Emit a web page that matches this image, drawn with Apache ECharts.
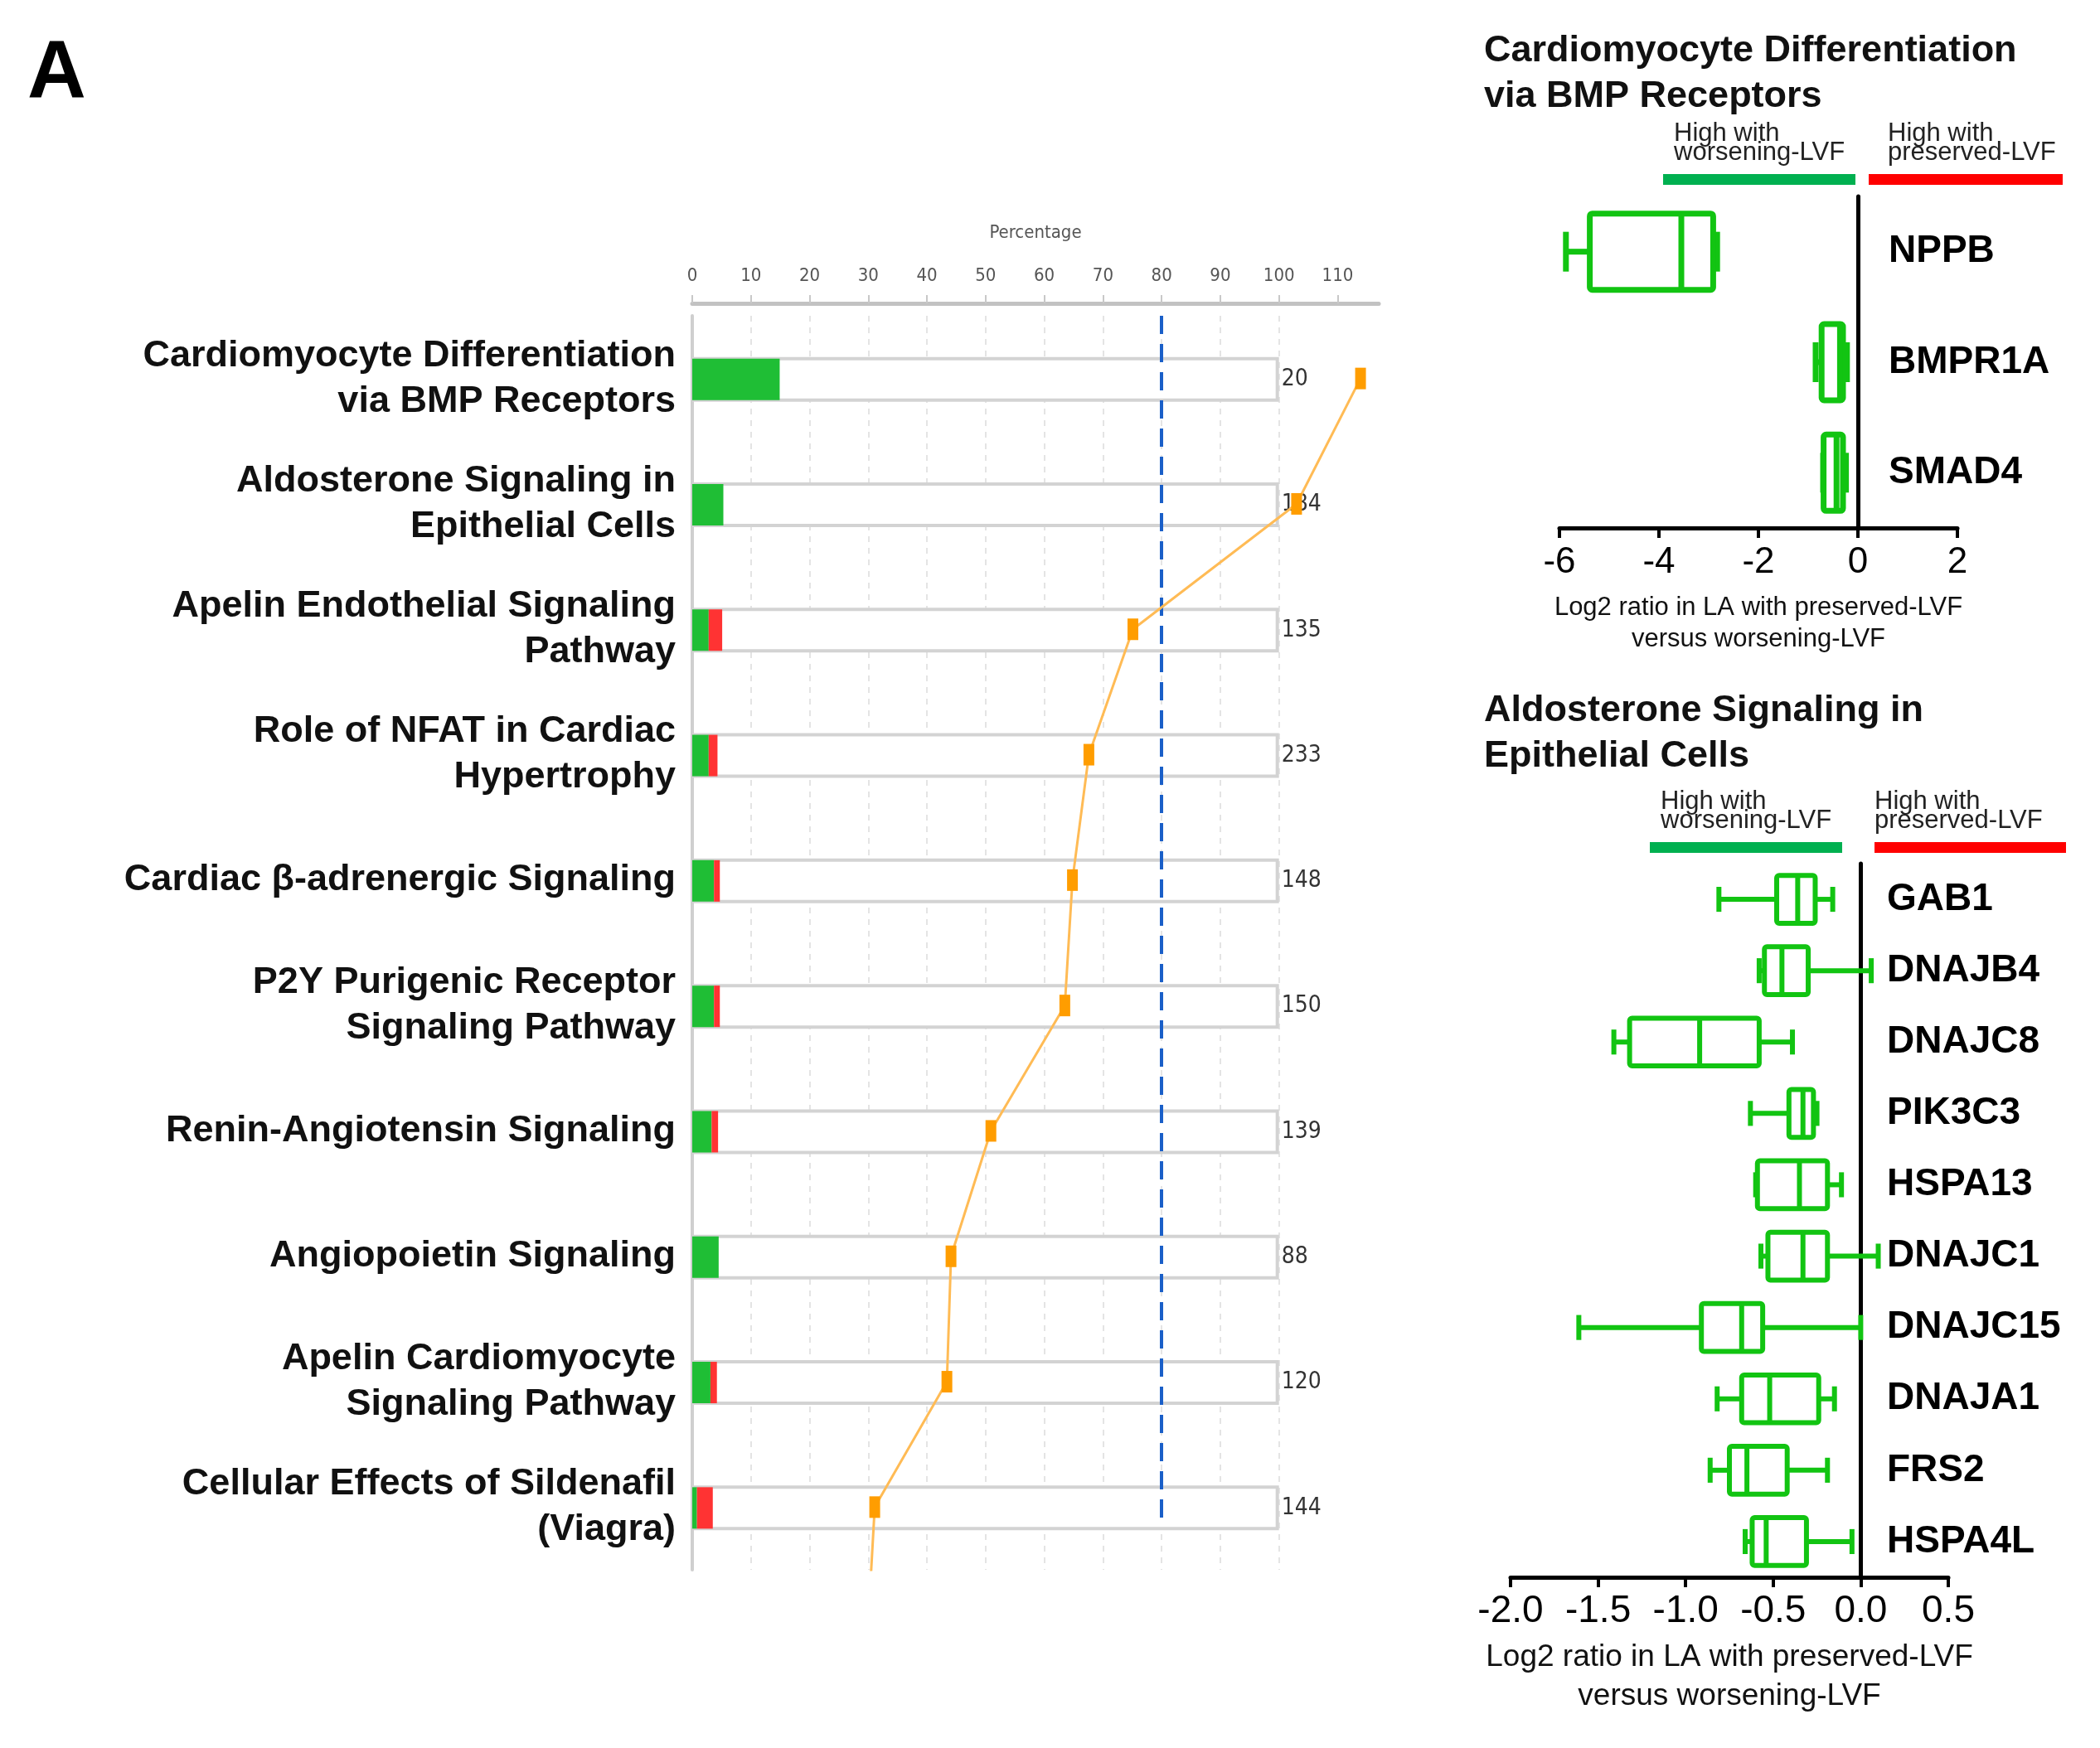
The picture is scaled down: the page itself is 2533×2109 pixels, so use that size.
<!DOCTYPE html>
<html><head><meta charset="utf-8">
<script src="https://cdn.jsdelivr.net/npm/echarts@6/dist/echarts.min.js"></script>
<style>html,body{margin:0;padding:0;background:#fff}#c{width:2533px;height:2109px}</style>
</head><body><div id="c"></div>
<script>
// ---------- data ----------
const pathways = [
  'Cardiomyocyte Differentiation\nvia BMP Receptors',
  'Aldosterone Signaling in\nEpithelial Cells',
  'Apelin Endothelial Signaling\nPathway',
  'Role of NFAT in Cardiac\nHypertrophy',
  'Cardiac \u03b2-adrenergic Signaling',
  'P2Y Purigenic Receptor\nSignaling Pathway',
  'Renin-Angiotensin Signaling',
  'Angiopoietin Signaling',
  'Apelin Cardiomyocyte\nSignaling Pathway',
  'Cellular Effects of Sildenafil\n(Viagra)'
];
const moleculeCounts = [20, 184, 135, 233, 148, 150, 139, 88, 120, 144];
const greenPct = [14.9, 5.3, 2.8, 2.8, 3.7, 3.7, 3.3, 4.5, 3.1, 0.8];
const redPct   = [0, 0, 2.3, 1.5, 1.0, 1.0, 1.1, 0, 1.1, 2.7];
const totalPct = [100, 100, 100, 100, 100, 100, 100, 100, 100, 100];
const ratioLine = [113.9, 103.0, 75.1, 67.6, 64.8, 63.5, 50.9, 44.1, 43.4, 31.1, 29.9];
const pctTicks = [0, 10, 20, 30, 40, 50, 60, 70, 80, 90, 100, 110];
const thresholdPct = 80;

const bmpGenes = ['NPPB', 'BMPR1A', 'SMAD4'];
// [min, Q1, median, Q3, max]
const bmpStats = [
  [-5.87, -5.39, -3.55, -2.91, -2.83],
  [-0.85, -0.73, -0.36, -0.30, -0.22],
  [-0.70, -0.69, -0.43, -0.30, -0.24]
];
const aldoGenes = ['GAB1', 'DNAJB4', 'DNAJC8', 'PIK3C3', 'HSPA13', 'DNAJC1', 'DNAJC15', 'DNAJA1', 'FRS2', 'HSPA4L'];
const aldoStats = [
  [-0.81, -0.48, -0.36, -0.26, -0.16],
  [-0.58, -0.55, -0.45, -0.30, 0.06],
  [-1.41, -1.32, -0.92, -0.58, -0.39],
  [-0.63, -0.41, -0.33, -0.27, -0.25],
  [-0.60, -0.59, -0.35, -0.19, -0.11],
  [-0.57, -0.53, -0.33, -0.19, 0.10],
  [-1.61, -0.91, -0.68, -0.56, 0.00],
  [-0.82, -0.68, -0.52, -0.24, -0.15],
  [-0.86, -0.75, -0.65, -0.42, -0.19],
  [-0.66, -0.62, -0.54, -0.31, -0.05]
];

// ---------- styles ----------
const SANS = '"Liberation Sans", Arial, Helvetica, sans-serif';
const NARROW = '"Liberation Sans Narrow", "DejaVu Sans Condensed", "Liberation Sans", Arial, sans-serif';
const BOX_GREEN = '#12c412';

function makeBoxRenderer(boxRatio, capRatio, lw) {
  return function (params, api) {
    const idx = api.value(5);
    const band = api.size([0, 1])[1];
    const h = band * boxRatio, c = band * capRatio;
    const xs = [0, 1, 2, 3, 4].map(function (i) { return api.coord([api.value(i), idx])[0]; });
    const y = api.coord([api.value(2), idx])[1];
    const st = { stroke: BOX_GREEN, lineWidth: lw, fill: 'transparent', lineJoin: 'round', lineCap: 'butt' };
    return {
      type: 'group', children: [
        { type: 'line', shape: { x1: xs[0], y1: y, x2: xs[1], y2: y }, style: st },
        { type: 'line', shape: { x1: xs[3], y1: y, x2: xs[4], y2: y }, style: st },
        { type: 'line', shape: { x1: xs[0], y1: y - c / 2, x2: xs[0], y2: y + c / 2 }, style: st },
        { type: 'line', shape: { x1: xs[4], y1: y - c / 2, x2: xs[4], y2: y + c / 2 }, style: st },
        { type: 'rect', shape: { x: xs[1], y: y - h / 2, width: xs[3] - xs[1], height: h, r: 3 }, style: st },
        { type: 'line', shape: { x1: xs[2], y1: y - h / 2, x2: xs[2], y2: y + h / 2 }, style: st }
      ]
    };
  };
}

function boxAxisX(gridIndex, min, max, interval, fontSize, labelMargin, nameFont, nameLH, nameGap, fmt) {
  return {
    type: 'value', gridIndex: gridIndex, min: min, max: max, interval: interval,
    position: 'bottom',
    axisLine: { show: true, onZero: false, lineStyle: { color: '#000', width: 5 } },
    axisTick: { show: true, inside: false, length: 12, lineStyle: { color: '#000', width: 4 } },
    splitLine: { show: false },
    axisLabel: { show: true, margin: labelMargin, fontSize: fontSize, fontFamily: SANS, color: '#000', formatter: fmt },
    name: 'Log2 ratio in LA with preserved-LVF\nversus worsening-LVF',
    nameLocation: 'middle', nameGap: nameGap, nameMoveOverlap: false,
    nameTextStyle: { fontSize: nameFont, lineHeight: nameLH, fontFamily: SANS, color: '#111' }
  };
}
function boxAxisY(gridIndex, genes, margin) {
  return {
    type: 'category', gridIndex: gridIndex, data: genes, inverse: true, position: 'right',
    axisLine: { show: true, onZero: true, lineStyle: { color: '#000', width: 5 } },
    axisTick: { show: false },
    splitLine: { show: false },
    axisLabel: { show: true, interval: 0, margin: margin, fontSize: 46, fontWeight: 'bold', fontFamily: SANS, color: '#000', align: 'left' }
  };
}

const chart = echarts.init(document.getElementById('c'), null, { renderer: 'canvas' });
const option = {
  backgroundColor: '#ffffff',
  animation: false,
  title: [
    { text: 'A', left: 28, top: 36, textStyle: { fontSize: 98, fontWeight: 'bold', fontFamily: SANS, color: '#000' } },
    { text: 'Cardiomyocyte Differentiation\nvia BMP Receptors', left: 1785, top: 29,
      textStyle: { fontSize: 45, fontWeight: 'bold', fontFamily: SANS, color: '#111', lineHeight: 55 } },
    { text: 'Aldosterone Signaling in\nEpithelial Cells', left: 1785, top: 825,
      textStyle: { fontSize: 45, fontWeight: 'bold', fontFamily: SANS, color: '#111', lineHeight: 55 } }
  ],
  graphic: [
    { type: 'text', left: 2019, top: 146, style: { text: 'High with\nworsening-LVF', fontSize: 31, lineHeight: 23, fontFamily: SANS, fill: '#222' } },
    { type: 'rect', left: 2006, top: 210, shape: { width: 232, height: 13 }, style: { fill: '#00b050' } },
    { type: 'text', left: 2277, top: 146, style: { text: 'High with\npreserved-LVF', fontSize: 31, lineHeight: 23, fontFamily: SANS, fill: '#222' } },
    { type: 'rect', left: 2254, top: 210, shape: { width: 234, height: 13 }, style: { fill: '#ff0000' } },
    { type: 'text', left: 2003, top: 952, style: { text: 'High with\nworsening-LVF', fontSize: 31, lineHeight: 23, fontFamily: SANS, fill: '#222' } },
    { type: 'rect', left: 1990, top: 1016, shape: { width: 232, height: 13 }, style: { fill: '#00b050' } },
    { type: 'text', left: 2261, top: 952, style: { text: 'High with\npreserved-LVF', fontSize: 31, lineHeight: 23, fontFamily: SANS, fill: '#222' } },
    { type: 'rect', left: 2261, top: 1016, shape: { width: 231, height: 13 }, style: { fill: '#ff0000' } }
  ],
  grid: [
    { left: 835, top: 381, width: 828, height: 1513, containLabel: false, outerBoundsMode: 'none' },
    { left: 1881, top: 237, width: 480, height: 400, containLabel: false, outerBoundsMode: 'none' },
    { left: 1822, top: 1042, width: 528, height: 861, containLabel: false, outerBoundsMode: 'none' }
  ],
  xAxis: [
    {
      type: 'value', gridIndex: 0, min: 0, max: 117, interval: 10, position: 'top', offset: 15,
      axisLine: { show: true, onZero: false, lineStyle: { color: '#c2c2c2', width: 5 } },
      axisTick: { show: true, inside: false, length: 10, customValues: pctTicks, lineStyle: { color: '#c8c8c8', width: 2 } },
      axisLabel: { show: true, margin: 22, customValues: pctTicks, fontSize: 22, fontFamily: NARROW, color: '#555' },
      splitLine: { show: true, showMinLine: false, showMaxLine: false, lineStyle: { color: '#e4e4e4', width: 2, type: [7, 7] } },
      name: 'Percentage', nameLocation: 'middle', nameGap: 74, nameMoveOverlap: false,
      nameTextStyle: { fontSize: 22, fontFamily: NARROW, color: '#555' }
    },
    boxAxisX(1, -6, 2, 2, 44, 20, 31, 38, 77, function (v) { return String(v); }),
    boxAxisX(2, -2, 0.5, 0.5, 46, 18, 37, 47, 73, function (v) { return v.toFixed(1); })
  ],
  yAxis: [
    {
      type: 'category', gridIndex: 0, data: pathways, inverse: true,
      axisLine: { show: true, onZero: false, lineStyle: { color: '#cfcfcf', width: 4 } },
      axisTick: { show: false },
      splitLine: { show: false },
      axisLabel: { show: true, interval: 0, margin: 20, fontSize: 45, lineHeight: 55, fontWeight: 'bold', fontFamily: SANS, color: '#111', align: 'right' }
    },
    { type: 'value', gridIndex: 0, min: -0.5, max: 9.5, inverse: true, show: false },
    boxAxisY(1, bmpGenes, -83),
    boxAxisY(2, aldoGenes, -74)
  ],
  series: [
    {
      name: 'total', type: 'bar', xAxisIndex: 0, yAxisIndex: 0, data: totalPct,
      barWidth: 54, barGap: '-96.3%', silent: true,
      itemStyle: { color: '#ffffff', borderColor: '#d3d3d3', borderWidth: 4 },
      label: { show: true, position: 'right', distance: 3, fontSize: 28, fontFamily: NARROW, color: '#333',
        formatter: function (p) { return String(moleculeCounts[p.dataIndex]); } }
    },
    {
      name: 'down', type: 'bar', stack: 'pct', xAxisIndex: 0, yAxisIndex: 0, data: greenPct,
      barWidth: 50, barGap: '-96.3%', itemStyle: { color: '#1fbe35' }
    },
    {
      name: 'up', type: 'bar', stack: 'pct', xAxisIndex: 0, yAxisIndex: 0, data: redPct,
      barWidth: 50, barGap: '-96.3%', itemStyle: { color: '#ff3333' }
    },
    {
      name: 'ratio', type: 'line', xAxisIndex: 0, yAxisIndex: 1, clip: true,
      data: ratioLine.map(function (v, i) { return [v, i]; }),
      symbol: 'rect', symbolSize: [13, 26], showAllSymbol: true,
      itemStyle: { color: '#ff9d00' },
      lineStyle: { color: '#ffbb55', width: 3 },
      z: 5,
      markLine: {
        silent: true, symbol: 'none', label: { show: false },
        lineStyle: { color: '#1a5fc8', width: 4, type: [22, 12] },
        data: [[{ coord: [thresholdPct, -0.5] }, { coord: [thresholdPct, 9.1] }]]
      }
    },
    {
      name: 'bmpBox', type: 'custom', xAxisIndex: 1, yAxisIndex: 2,
      renderItem: makeBoxRenderer(0.69, 0.36, 7),
      encode: { x: [0, 1, 2, 3, 4], y: 5 },
      data: bmpStats.map(function (s, i) { return s.concat([i]); }), z: 3
    },
    {
      name: 'aldoBox', type: 'custom', xAxisIndex: 2, yAxisIndex: 3,
      renderItem: makeBoxRenderer(0.67, 0.35, 6),
      encode: { x: [0, 1, 2, 3, 4], y: 5 },
      data: aldoStats.map(function (s, i) { return s.concat([i]); }), z: 3
    }
  ]
};
chart.setOption(option);
</script>
</body></html>
